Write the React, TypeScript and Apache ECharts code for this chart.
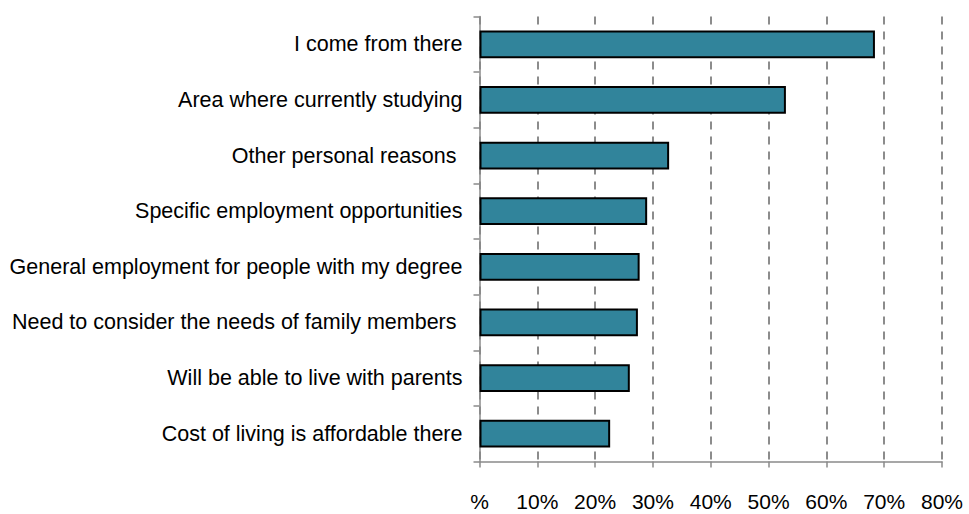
import React, { useEffect, useRef } from "react";
import * as echarts from "echarts";

const categories = [
  "I come from there",
  "Area where currently studying",
  "Other personal reasons ",
  "Specific employment opportunities",
  "General employment for people with my degree",
  "Need to consider the needs of family members ",
  "Will be able to live with parents",
  "Cost of living is affordable there",
];

const values = [68.4, 53.0, 32.8, 29.0, 27.7, 27.4, 26.0, 22.6];

const tickLabels: Record<number, string> = {
  0: "%",
  10: "10%",
  20: "20%",
  30: "30%",
  40: "40%",
  50: "50%",
  60: "60%",
  70: "70%",
  80: "80%",
};

export default function App() {
  const ref = useRef<HTMLDivElement>(null);
  useEffect(() => {
    if (!ref.current) return;
    const chart = echarts.init(ref.current, undefined, { renderer: "svg" });
    const font = "'Liberation Sans', Arial, sans-serif";
    chart.setOption({
      animation: false,
      backgroundColor: "#ffffff",
      grid: {
        left: 479.5,
        right: 27,
        top: 16.5,
        bottom: 52.5,
        containLabel: false,
        outerBoundsMode: "none",
      },
      xAxis: {
        type: "value",
        min: 0,
        max: 80,
        interval: 10,
        axisLine: { show: true, lineStyle: { color: "#8a8a8a", width: 1.5 } },
        axisTick: { show: true, length: 6, lineStyle: { color: "#8a8a8a", width: 1.5 } },
        axisLabel: {
          margin: 29,
          fontSize: 21,
          fontFamily: font,
          color: "#000",
          formatter: (v: number) => tickLabels[v] ?? "",
        },
        splitLine: {
          show: true,
          lineStyle: { color: "#8c8c8c", width: 2, type: [8, 7] },
        },
      },
      yAxis: {
        type: "category",
        inverse: true,
        data: categories,
        axisLine: { show: true, lineStyle: { color: "#8a8a8a", width: 1.5 } },
        axisTick: { show: true, length: 6, interval: 0, lineStyle: { color: "#8a8a8a", width: 1.5 } },
        axisLabel: {
          margin: 17,
          fontSize: 21.5,
          fontFamily: font,
          color: "#000",
          interval: 0,
        },
        splitLine: { show: false },
      },
      series: [
        {
          type: "bar",
          data: values,
          barWidth: "50%",
          itemStyle: { color: "#31849b", borderColor: "#000", borderWidth: 2 },
        },
      ],
    });
    return () => chart.dispose();
  }, []);
  return (
    <div
      ref={ref}
      style={{ position: "absolute", left: 0, top: 0, width: 969, height: 514 }}
    />
  );
}
